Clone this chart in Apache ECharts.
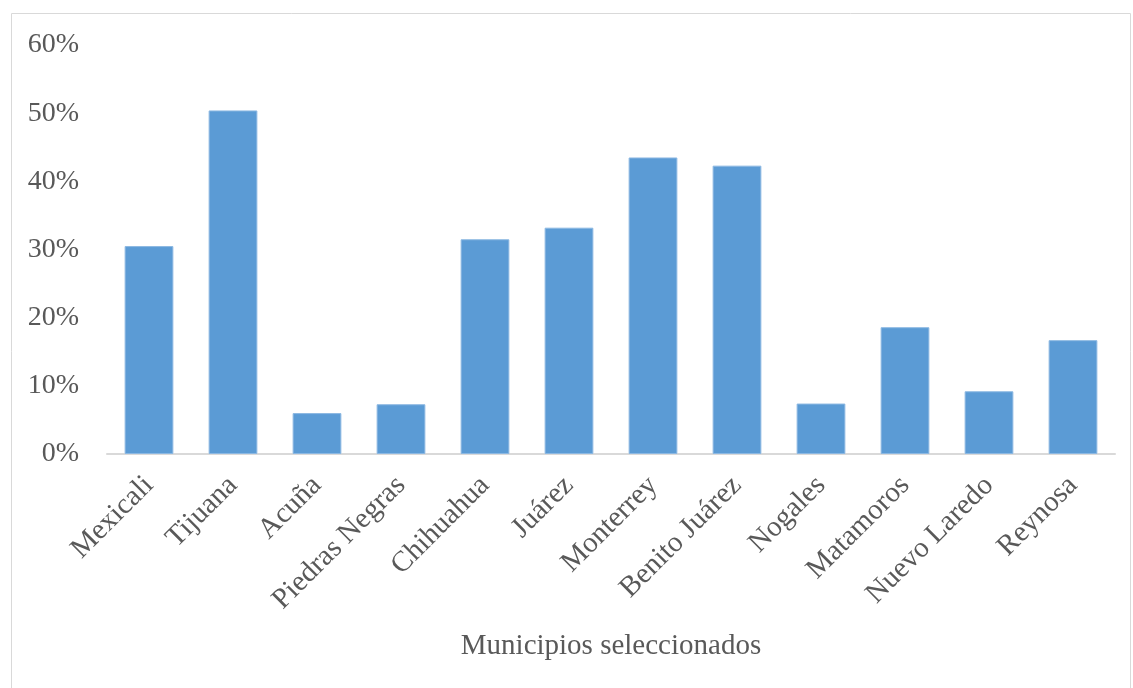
<!DOCTYPE html>
<html>
<head>
<meta charset="utf-8">
<script src="https://cdn.jsdelivr.net/npm/echarts@6/dist/echarts.min.js"></script>
<style>
  html, body { margin: 0; padding: 0; background: #fff; }
  #chart-container { width: 1133px; height: 688px; }
</style>
</head>
<body>
<div id="chart-container"></div>
<script>
var municipios = ['Mexicali', 'Tijuana', 'Acuña', 'Piedras Negras', 'Chihuahua', 'Juárez',
  'Monterrey', 'Benito Juárez', 'Nogales', 'Matamoros', 'Nuevo Laredo', 'Reynosa'];
var porcentajes = [30.5, 50.4, 6.0, 7.3, 31.5, 33.2, 43.5, 42.3, 7.4, 18.6, 9.2, 16.7];
var yTicks = [0, 10, 20, 30, 40, 50, 60];

var dom = document.getElementById('chart-container');
var myChart = echarts.init(dom, null, { renderer: 'canvas' });

var serif = '"Liberation Serif", "DejaVu Serif", serif';
var textColor = '#595959';

var option = {
  animation: false,
  graphic: [{
    type: 'rect',
    shape: { x: 11.5, y: 13.5, width: 1119, height: 690 },
    style: { fill: 'none', stroke: '#d9d9d9', lineWidth: 1 },
    silent: true
  }],
  grid: { left: 107, right: 18, top: 45, bottom: 234 },
  xAxis: {
    type: 'category',
    data: municipios,
    name: 'Municipios seleccionados',
    nameLocation: 'middle',
    nameGap: 178,
    nameTextStyle: { fontFamily: serif, fontSize: 29, color: textColor },
    axisLine: { lineStyle: { color: '#d9d9d9', width: 2 } },
    axisTick: { show: false },
    axisLabel: {
      rotate: 45,
      interval: 0,
      margin: 27,
      fontFamily: serif,
      fontSize: 29,
      color: textColor
    }
  },
  yAxis: {
    type: 'value',
    min: yTicks[0],
    max: yTicks[yTicks.length - 1],
    interval: 10,
    splitLine: { show: false },
    axisLine: { show: false },
    axisTick: { show: false },
    axisLabel: {
      margin: 28,
      fontFamily: serif,
      fontSize: 28,
      color: textColor,
      formatter: (v) => v + '%'
    }
  },
  series: [{
    type: 'bar',
    data: porcentajes,
    barCategoryGap: '42%',
    itemStyle: { color: '#5b9bd5', borderColor: '#8cb8e2', borderWidth: 1 }
  }]
};

myChart.setOption(option);
window.addEventListener('resize', myChart.resize);
</script>
</body>
</html>
